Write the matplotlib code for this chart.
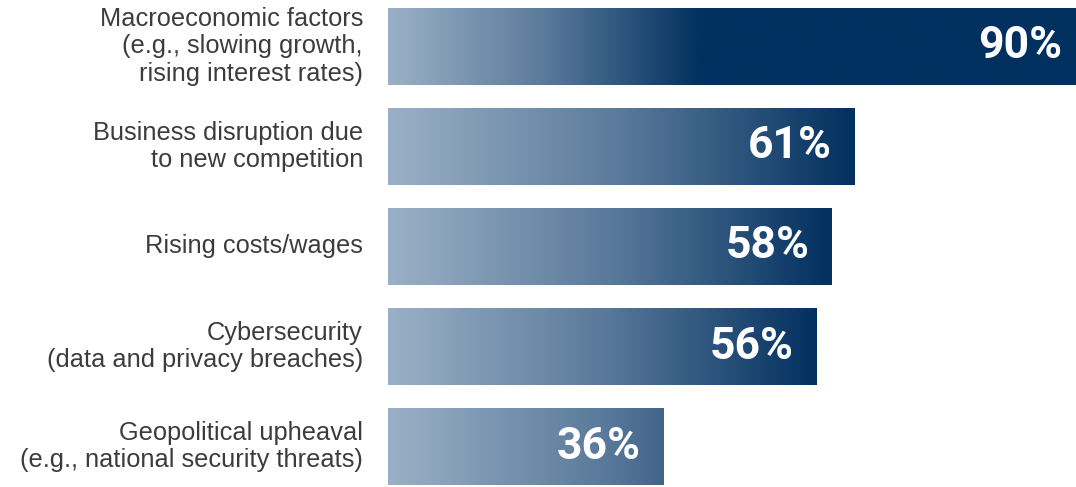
import numpy as np
import matplotlib
matplotlib.use("Agg")
import matplotlib.pyplot as plt
from matplotlib.colors import LinearSegmentedColormap

categories = [
    "Macroeconomic factors\n(e.g., slowing growth,\nrising interest rates)",
    "Business disruption due\nto new competition",
    "Rising costs/wages",
    "Cybersecurity\n(data and privacy breaches)",
    "Geopolitical upheaval\n(e.g., national security threats)",
]
values = [90, 61, 58, 56, 36]
value_labels = ["90%", "61%", "58%", "56%", "36%"]
# extent (in % units) over which each bar's gradient runs from light to dark
gradient_spans = [41, 61, 58, 56, 56]

cmap = LinearSegmentedColormap.from_list(
    "navy", [(0.0, "#9bb0c6"), (0.5, "#5a7a9b"), (1.0, "#02305f")])

fig = plt.figure(figsize=(10.76, 4.87), dpi=100)
ax = fig.add_axes([388 / 1076, 2 / 487, 1 - 388 / 1076, 477 / 487])
ax.set_xlim(0, 90)
ax.set_ylim(4.385, -0.385)
ax.axis("off")

bar_h = 0.77
ypos = np.arange(len(values))
bars = ax.barh(ypos, values, height=bar_h, color="none", edgecolor="none")

for i, (b, v, span) in enumerate(zip(bars, values, gradient_spans)):
    xs = np.linspace(0, v, 600)
    frac = np.clip(xs / span, 0, 1)
    img = ax.imshow(frac[np.newaxis, :], cmap=cmap, vmin=0, vmax=1,
                    extent=[0, v, i + bar_h / 2, i - bar_h / 2],
                    aspect="auto", interpolation="bilinear", zorder=1)
    img.set_clip_path(b)
    ax.annotate(value_labels[i], xy=(v, i), xytext=(-10 if v >= 90 else -16, 0),
                textcoords="offset points", ha="right", va="center",
                color="white", fontsize=32, fontweight="bold",
                family=["Roboto"], zorder=3)

for i, c in enumerate(categories):
    ax.annotate(c, xy=(0, i), xytext=(-25, 0), textcoords="offset pixels",
                ha="right", va="center", color="#3c3c3c", fontsize=18.3,
                family=["Liberation Sans"], linespacing=1.16,
                annotation_clip=False)

fig.savefig("out.png", dpi=100)
